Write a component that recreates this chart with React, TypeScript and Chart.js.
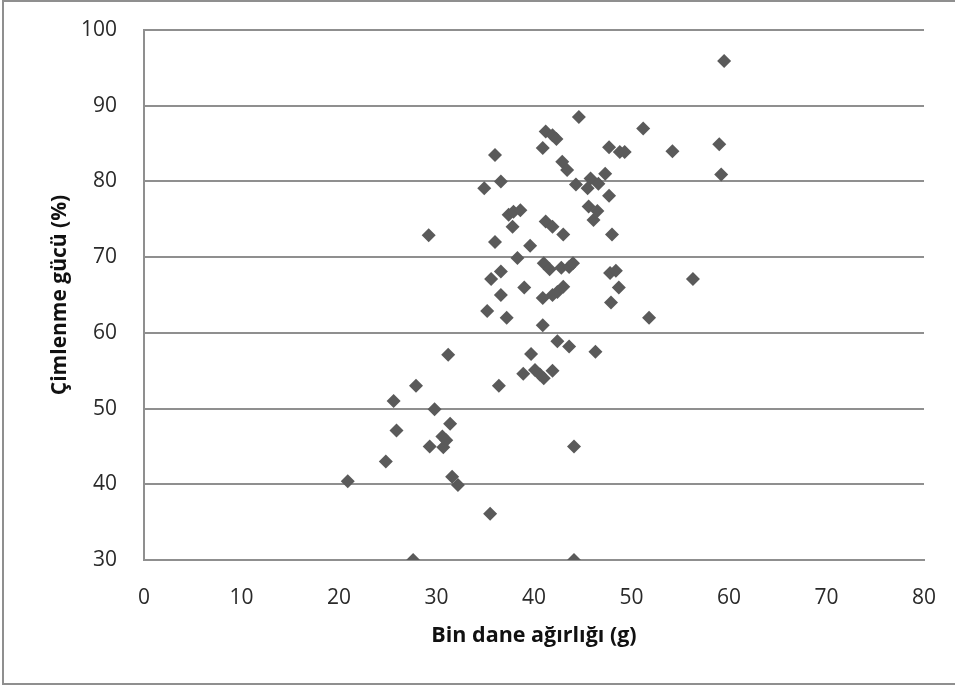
import React, { useEffect, useRef } from "react";
import { Chart, registerables } from "chart.js";

Chart.register(...registerables);

const binDaneAgirligi: number[] = [
  20.9, 24.8, 25.6, 25.9, 27.6, 27.9, 29.2, 29.3, 29.8, 30.6,
  30.7, 31.0, 31.2, 31.4, 31.6, 32.2, 34.9, 35.2, 35.5, 35.6,
  36.0, 36.0, 36.4, 36.6, 36.6, 36.6, 37.2, 37.4, 37.8, 37.9,
  38.6, 38.3, 38.9, 39.0, 39.6, 39.7, 40.1, 40.6, 41.0, 40.9,
  40.9, 40.9, 41.0, 41.2, 41.2, 41.6, 41.9, 41.9, 41.9, 41.9,
  42.3, 42.4, 42.4, 42.8, 42.9, 43.0, 43.0, 43.4, 43.6, 43.6,
  44.0, 44.1, 44.1, 44.3, 44.6, 45.5, 45.6, 45.8, 46.1, 46.5,
  46.3, 46.6, 47.3, 47.7, 47.7, 47.8, 47.9, 48.0, 48.4, 48.7,
  48.8, 49.3, 51.2, 51.8, 54.2, 56.3, 59.0, 59.2, 59.5,
];

const cimlenmeGucu: number[] = [
  40.4, 43.0, 51.0, 47.1, 30.0, 53.0, 72.9, 45.0, 49.9, 46.3,
  44.9, 45.8, 57.1, 48.0, 41.0, 39.9, 79.1, 62.9, 36.1, 67.1,
  83.5, 72.0, 53.0, 80.0, 68.1, 65.0, 62.0, 75.6, 74.0, 76.0,
  76.2, 69.9, 54.6, 66.0, 71.5, 57.2, 55.1, 54.5, 54.0, 84.4,
  64.6, 61.0, 69.2, 86.6, 74.7, 68.4, 86.1, 74.0, 65.0, 55.0,
  85.6, 65.4, 58.9, 68.6, 82.6, 73.0, 66.1, 81.5, 68.7, 58.2,
  69.2, 45.0, 30.0, 79.6, 88.5, 79.1, 76.7, 80.4, 74.9, 76.1,
  57.5, 79.7, 81.0, 84.5, 78.1, 67.9, 64.0, 73.0, 68.2, 66.0,
  83.9, 83.9, 87.0, 62.0, 84.0, 67.1, 84.9, 80.9, 95.9,
];

const xTitle = "Bin dane ağırlığı (g)";
const yTitle = "Çimlenme gücü (%)";

const FONT = "'Open Sans', 'Noto Sans', sans-serif";

const framePlugin = {
  id: "frame",
  beforeDraw(chart: any) {
    const ctx = chart.ctx;
    ctx.save();
    ctx.fillStyle = "#ffffff";
    ctx.fillRect(0, 0, chart.width, chart.height);
    ctx.strokeStyle = "#8f8f8f";
    ctx.lineWidth = 2;
    ctx.beginPath();
    ctx.moveTo(chart.width, 1);
    ctx.lineTo(3, 1);
    ctx.lineTo(3, 684);
    ctx.lineTo(chart.width, 684);
    ctx.stroke();
    ctx.restore();
  },
};

export default function App() {
  const ref = useRef<HTMLCanvasElement | null>(null);

  useEffect(() => {
    document.body.style.margin = "0";
    if (!ref.current) return;
    const points = binDaneAgirligi.map((x, i) => ({ x, y: cimlenmeGucu[i] }));
    const chart = new Chart(ref.current, {
      type: "scatter",
      data: {
        datasets: [
          {
            data: points,
            pointStyle: "rectRot",
            pointRadius: 7,
            pointHoverRadius: 7,
            backgroundColor: "#5a5a5a",
            borderColor: "#5a5a5a",
            borderWidth: 0,
          },
        ],
      },
      options: {
        responsive: false,
        animation: false,
        layout: { padding: { top: 30, right: 31, left: 0, bottom: 0 } },
        plugins: { legend: { display: false }, tooltip: { enabled: false } },
        scales: {
          x: {
            type: "linear",
            min: 0,
            max: 80,
            afterFit: (s: any) => {
              s.height = 128;
            },
            ticks: {
              stepSize: 10,
              padding: 2,
              color: "#2a2a2a",
              font: { family: FONT, size: 21 },
            },
            grid: {
              display: true,
              color: "rgba(0,0,0,0)",
              drawOnChartArea: false,
              drawTicks: true,
              tickLength: 23,
              tickColor: "rgba(0,0,0,0)",
            },
            border: { display: true, color: "#8f8f8f", width: 2 },
            title: {
              display: true,
              text: xTitle,
              color: "#111",
              font: { family: FONT, size: 21.5, weight: "bold" },
              padding: { top: 39, bottom: 39 },
            },
          },
          y: {
            type: "linear",
            min: 30,
            max: 100,
            afterFit: (s: any) => {
              s.width = 144;
            },
            ticks: {
              stepSize: 10,
              padding: 3,
              color: "#2a2a2a",
              font: { family: FONT, size: 21 },
            },
            grid: {
              color: "#8f8f8f",
              lineWidth: 2,
              drawTicks: true,
              tickLength: 24,
              tickColor: "rgba(0,0,0,0)",
            },
            border: { display: true, color: "#8f8f8f", width: 2 },
            title: {
              display: true,
              text: yTitle,
              color: "#111",
              font: { family: FONT, size: 21, weight: "bold" },
              padding: { top: 47, bottom: 47 },
            },
          },
        },
      },
      plugins: [framePlugin],
    });
    return () => chart.destroy();
  }, []);

  return (
    <div style={{ width: 955, height: 688 }}>
      <canvas ref={ref} width={955} height={688} style={{ display: "block" }} />
    </div>
  );
}
